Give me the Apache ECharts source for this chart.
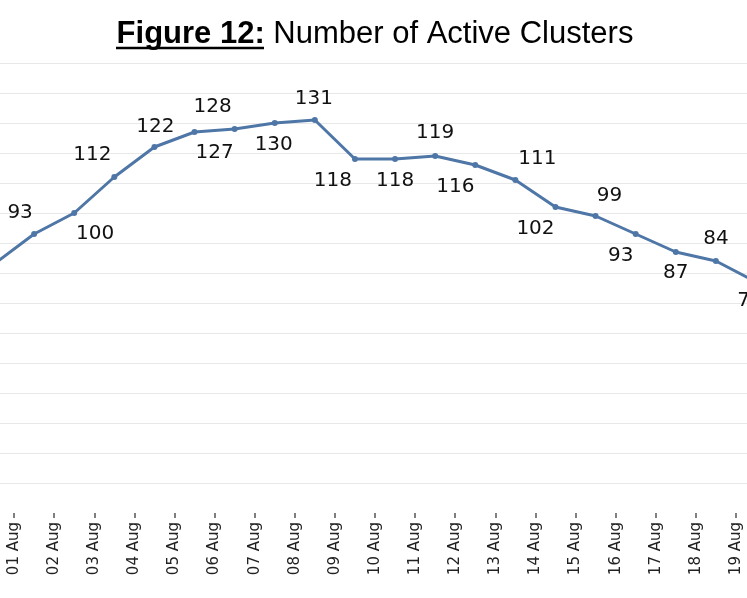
<!DOCTYPE html>
<html lang="en">
    <head>
        <meta charset="UTF-8" />
        <title>Number of Active Clusters</title>
        <script src="https://cdn.jsdelivr.net/npm/echarts@6/dist/echarts.min.js"></script>
        <style>
            body {
                margin: 0;
                padding: 0;
                background: #fff;
                overflow: hidden;
            }

            /* the plot runs a little past both edges of the picture */
            #chart {
                width: 762px;
                height: 598px;
                margin-left: -6px;
            }
        </style>
    </head>
    <body>
        <div id="chart"></div>
        <script>
            // date labels along the bottom
            let dates = [
                '01 Aug', '02 Aug', '03 Aug', '04 Aug', '05 Aug', '06 Aug', '07 Aug',
                '08 Aug', '09 Aug', '10 Aug', '11 Aug', '12 Aug', '13 Aug', '14 Aug',
                '15 Aug', '16 Aug', '17 Aug', '18 Aug', '19 Aug'
            ];
            // active clusters (first and last points sit partly off the picture)
            let clusters = [83, 93, 100, 112, 122, 127, 128, 130, 131, 118, 118, 119, 116, 111, 102, 99, 93, 87, 84, 77];

            // where each value label sits relative to its point, [dx, dy]
            let labelOffsets = [
                [-24, -21], [-14, -21], [21, 21], [-22, -22], [1, -20], [20, 21], [-22, -22],
                [-1, 22], [-1, -21], [-22, 22], [0, 22], [0, -23], [-20, 22], [22, -21],
                [-20, 22], [14, -20], [-15, 22], [0, 21], [0, -22], [-6, 19]
            ];

            let lineColor = '#4e76a6';
            let gridColors = ['rgba(0,0,0,0)'];
            for (let i = 1; i <= 15; i++) {
                gridColors.push('#e8e8e8');
            }

            let points = clusters.map((v, i) => ({
                value: v,
                label: { offset: labelOffsets[i] }
            }));

            let chartDom = document.getElementById('chart');
            let myChart = echarts.init(chartDom);

            let option = {
                animation: false,
                backgroundColor: '#fff',
                title: {
                    left: 'center',
                    top: 14,
                    text: '{b|Figure 12:} Number of Active Clusters',
                    textStyle: {
                        fontFamily: 'Liberation Sans',
                        fontSize: 31,
                        fontWeight: 'normal',
                        color: '#000',
                        rich: {
                            b: {
                                fontFamily: 'Liberation Sans',
                                fontSize: 31,
                                fontWeight: 'bold',
                                color: '#000'
                            }
                        }
                    }
                },
                graphic: [
                    {
                        // underline for "Figure 12:"
                        type: 'line',
                        shape: { x1: 122, y1: 48, x2: 270, y2: 48 },
                        style: { stroke: '#000', lineWidth: 2.5 }
                    }
                ],
                grid: {
                    left: 0,
                    right: 0,
                    top: 63,
                    bottom: 85
                },
                xAxis: [
                    {
                        type: 'category',
                        show: false,
                        boundaryGap: false,
                        data: clusters.map((v, i) => i)
                    },
                    {
                        type: 'category',
                        position: 'bottom',
                        boundaryGap: true,
                        data: dates,
                        axisLine: { show: false },
                        axisTick: {
                            show: true,
                            alignWithLabel: true,
                            length: 5,
                            lineStyle: { color: '#555', width: 1.5 }
                        },
                        axisLabel: {
                            rotate: 90,
                            margin: 9,
                            fontFamily: 'DejaVu Sans',
                            fontSize: 15,
                            color: '#222'
                        }
                    }
                ],
                yAxis: {
                    type: 'value',
                    min: 0,
                    max: 150,
                    interval: 10,
                    axisLine: { show: false },
                    axisTick: { show: false },
                    axisLabel: { show: false },
                    splitLine: {
                        lineStyle: { color: gridColors, width: 1 }
                    }
                },
                series: [
                    {
                        type: 'line',
                        xAxisIndex: 0,
                        data: points,
                        symbol: 'circle',
                        symbolSize: 6,
                        lineStyle: { color: lineColor, width: 3 },
                        itemStyle: { color: lineColor },
                        label: {
                            show: true,
                            position: 'inside',
                            align: 'center',
                            verticalAlign: 'middle',
                            fontFamily: 'DejaVu Sans',
                            fontSize: 20,
                            color: '#111'
                        }
                    }
                ]
            };
            myChart.setOption(option);
        </script>
    </body>
</html>
